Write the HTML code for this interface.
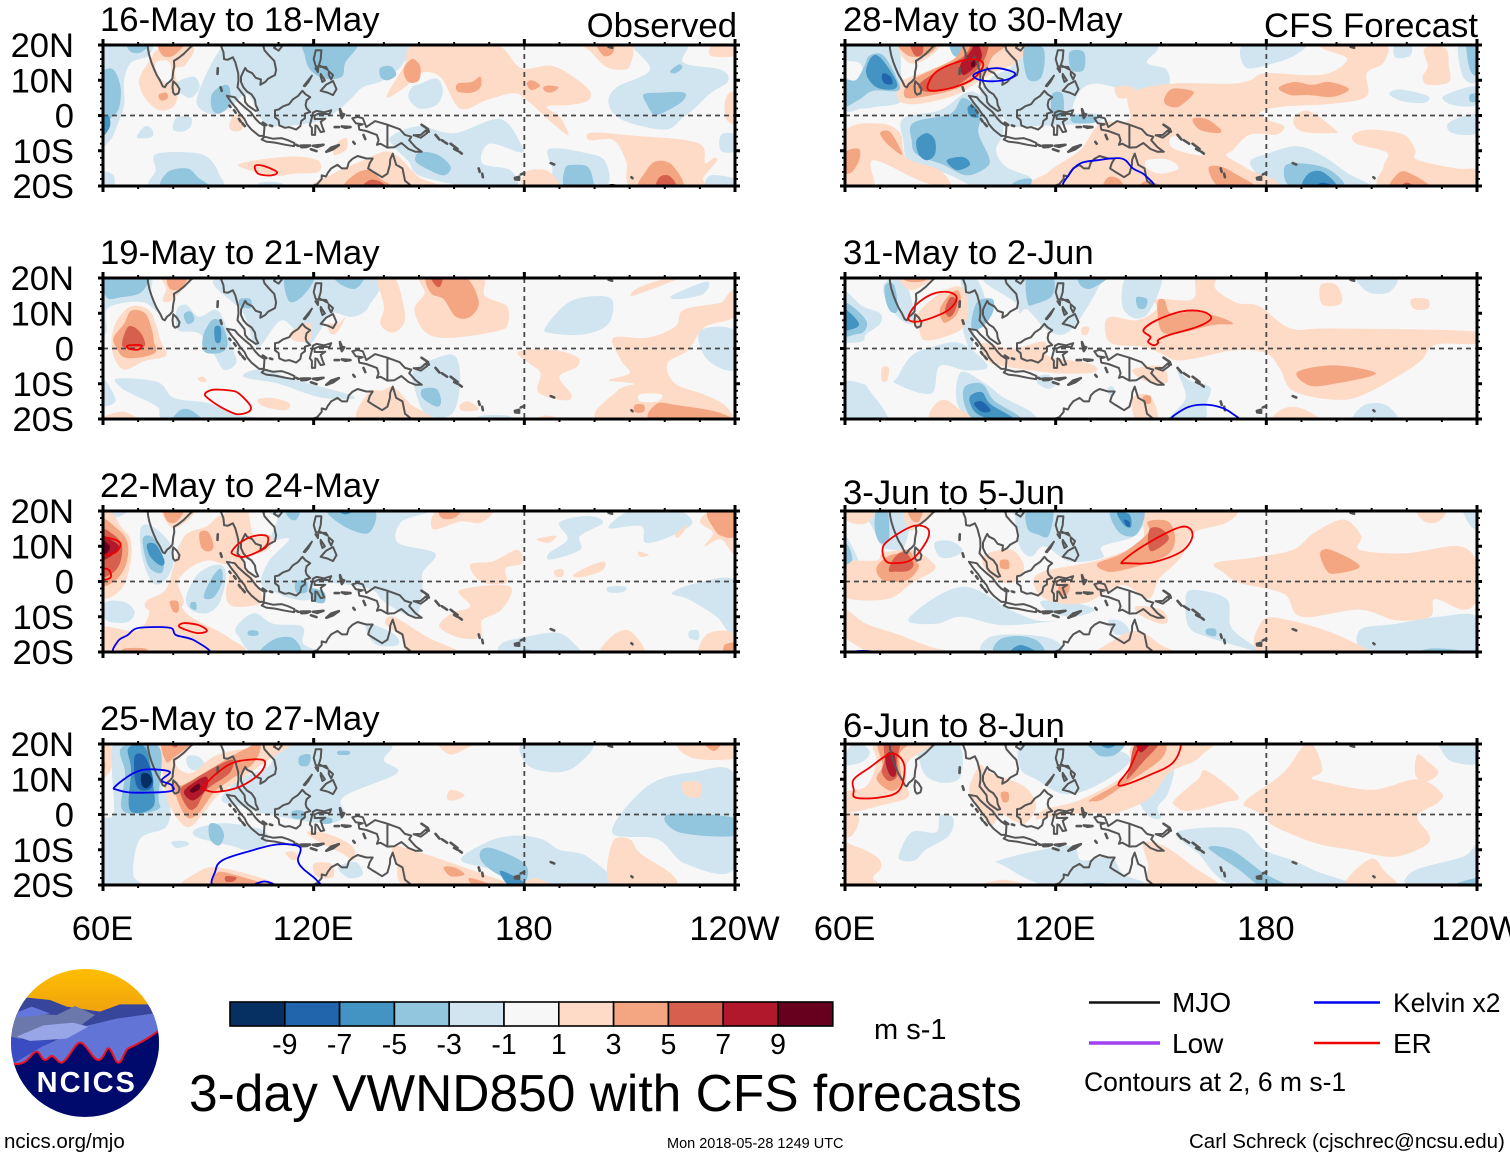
<!DOCTYPE html>
<html lang="en">
<head>
<meta charset="utf-8">
<title>3-day VWND850 with CFS forecasts</title>
<style>
html,body{margin:0;padding:0;background:#fff;width:1510px;height:1158px;overflow:hidden}
svg{display:block}
text{font-family:"Liberation Sans",sans-serif;fill:#000}
</style>
</head>
<body>
<svg id="chart" xmlns="http://www.w3.org/2000/svg" width="1510" height="1158" viewBox="0 0 1510 1158">
  <defs id="defs"></defs>
  <rect x="0" y="0" width="1510" height="1158" fill="#fff"/>
  <g id="panels"></g>
  <text x="737" y="37" text-anchor="end" font-size="34.7">Observed</text>
  <text x="1478" y="37" text-anchor="end" font-size="34.7">CFS Forecast</text>

  <g id="logo" transform="translate(0,950) scale(0.33333)">
    <clipPath id="logoClip"><circle cx="255" cy="279" r="222"/></clipPath>
    <linearGradient id="sky" x1="0" y1="0" x2="0" y2="1"><stop offset="0" stop-color="#ffc000"/><stop offset="1" stop-color="#ee9f10"/></linearGradient>
    <g clip-path="url(#logoClip)">
      <rect x="20" y="50" width="480" height="150" fill="url(#sky)"/>
      <polygon points="20,200 75,142 150,150 200,170 300,185 360,163 445,163 490,230 490,320 20,320" fill="#37459a"/>
      <polygon points="20,260 40,190 100,190 170,195 225,168 285,195 240,228 20,275" fill="#6a78ab"/>
      <polygon points="50,188 95,170 150,190 110,197 50,202" fill="#6576dc"/>
      <polygon points="20,345 60,320 265,226 350,206 462,190 490,240 490,320 300,350" fill="#6274d6"/>
      <polygon points="50,260 130,226 220,218 265,230 200,266 90,273" fill="#98a5e6"/>
      <polygon points="20,258 90,273 160,270 50,335 20,350" fill="#3a4cc2"/>
      <path d="M20,340 C40,342 60,345 75,335 C90,325 100,305 110,305 C120,305 125,330 135,330 C145,330 148,318 155,318 C165,318 175,340 185,338 C205,330 225,278 240,278 C258,278 278,330 295,330 C310,330 318,295 325,295 C335,295 345,338 355,338 C368,338 370,305 385,295 C420,280 460,255 490,232 L490,510 L20,510 Z" fill="#000a6c" stroke="#f01020" stroke-width="6"/>
    </g>
    <text x="110" y="426" font-size="87" font-weight="bold" letter-spacing="6" style="fill:#fff">NCICS</text>
  </g>

  <g id="colorbar"></g>
  <text x="874" y="1039" font-size="29">m s-1</text>
  <text x="189" y="1111" font-size="51.5">3-day VWND850 with CFS forecasts</text>

  <g>
    <line x1="1089" y1="1002.5" x2="1160" y2="1002.5" stroke="#111" stroke-width="2.5"/>
    <text x="1172" y="1012" font-size="28">MJO</text>
    <line x1="1314" y1="1002.5" x2="1380" y2="1002.5" stroke="#0000f0" stroke-width="2.5"/>
    <text x="1393" y="1012" font-size="26.5">Kelvin x2</text>
    <line x1="1089" y1="1043" x2="1160" y2="1043" stroke="#a040f0" stroke-width="3.5"/>
    <text x="1172" y="1053" font-size="28">Low</text>
    <line x1="1314" y1="1043" x2="1380" y2="1043" stroke="#f00000" stroke-width="2.5"/>
    <text x="1393" y="1053" font-size="28">ER</text>
    <text x="1084" y="1091" font-size="26.5">Contours at 2, 6 m s-1</text>
  </g>

  <text x="4" y="1148" font-size="20.5">ncics.org/mjo</text>
  <text x="667" y="1148" font-size="14.5">Mon 2018-05-28 1249 UTC</text>
  <text x="1189" y="1148" font-size="20.5">Carl Schreck (cjschrec@ncsu.edu)</text>
</svg>

<script>
// ---- Axis data ----
const latTicks = [20, 10, 0, -10, -20];
const latTickLabels = ['20N', '10N', '0', '10S', '20S'];
const lonTicks = [60, 120, 180, 240];
const lonTickLabels = ['60E', '120E', '180', '120W'];

// ---- Colour scale: band lower-magnitude contour -> colour ----
const bandLevels = [-9, -7, -5, -3, -1, 0, 1, 3, 5, 7, 9];
const bandColors = ['#053061', '#2166ac', '#4393c3', '#92c5de', '#d1e5f0', '#f7f7f7', '#fddbc7', '#f4a582', '#d6604d', '#b2182b', '#67001f'];
const colorbarLabels = ['-9', '-7', '-5', '-3', '-1', '1', '3', '5', '7', '9'];

// ---- Panel titles ----
const panelTitles = [
  '16-May to 18-May', '19-May to 21-May', '22-May to 24-May', '25-May to 27-May',
  '28-May to 30-May', '31-May to 2-Jun', '3-Jun to 5-Jun', '6-Jun to 8-Jun'
];

// ---- Shaded VWND850 anomaly regions: [contour level, lon, lat, lon, lat, ...] ----
const fillMay16 = [
  [-1, 59,20.5, 73,20.5, 73,17, 68,15, 66,10, 66,3, 64,-3, 62,-7, 59,-7],
  [-1, 86.7,3.4, 88.6,10, 93.3,18.6, 97,20.5, 144.6,20.5, 145.5,14.8, 139.9,10, 134,8, 130.3,4.4, 125.6,0.5, 119.9,-2, 108.5,-3, 104.7,-0.5, 101,6, 95.2,1.5, 90.5,0.5],
  [-1, 82,10, 86,11, 87.5,8, 85,5, 82,6.5, 81,9],
  [-1, 150.3,9, 155,10.5, 156.8,7, 155,3, 150,2, 147,5, 148,8],
  [-1, 211,20.5, 226,20.5, 225.3,15, 236,13, 238,9.7, 233,6.3, 229,2.5, 225.3,-0.5, 220,-4, 208,-1.3, 204,3.4, 206.3,8, 215.8,13],
  [-1, 236,-5.5, 240,-5.5, 240,-10, 236,-10],
  [-1, 233,-17, 240,-18, 240,-20.5, 232,-20.5],
  [-1, 142,-6, 150,-3, 160,-5, 173,-1, 179,-8, 179,-10.5, 170,-8, 168,-13.5, 176,-15.5, 177.4,-20.5, 164.5,-20.5, 162,-20, 150,-17, 147,-13, 143,-9],
  [-1, 75,-11, 85,-10.5, 90,-12, 93,-16.5, 93,-20.5, 74,-20.5, 75,-15.5],
  [-1, 69.6,-6, 72,-3, 74,-4, 74,-6, 71,-6.5],
  [-1, 80,-4, 81,-0.5, 85,-0.5, 85,-3, 83,-4.5],
  [-1, 187,-9.5, 197,-10.5, 203,-13, 203,-20.5, 189,-20.5, 188,-15],
  [-1, 60,-16, 63,-17, 63,-20.5, 60,-20.5],
  [-1, 105,-19, 110,-19, 112,-20.5, 104,-20.5],
  [1, 70.5,11, 73.4,15.7, 76.2,19, 85.7,19.5, 83.4,14.3, 80.5,13, 81.5,7, 80,2.5, 76,1.5, 72.4,4.4, 70.5,8],
  [0, 75,15, 79,15, 79,9, 76,11],
  [1, 140.8,5.3, 145.6,13.8, 149.4,20.5, 171,20.5, 179,13.5, 188.3,14, 197.8,8, 198.3,4.4, 193,3, 186.4,2.5, 190.2,-0.5, 192.6,-5.5, 190.2,-4, 187,-1.3, 180.7,4.4, 177,6.3, 169.3,4.4, 161.7,2, 156,11, 150,12, 146,8],
  [1, 197,20.5, 210,20.5, 210,14, 207,13, 203,14, 199,18],
  [1, 233,17, 240,17, 240,20.5, 234,20.5],
  [1, 238,6, 240,6, 240,-2, 237.5,-1, 237,3],
  [1, 121,-20.5, 125.6,-16.5, 134.2,-12.7, 139.9,-10.3, 143.7,-11.3, 150,-17.5, 155,-20.5],
  [1, 98.5,-14, 112.3,-11.7, 121,-12.7, 121.3,-16, 114.2,-16.5, 108.5,-17],
  [1, 125.6,-11, 127,-7.5, 129.4,-6.5, 129.4,-9.5, 127,-11],
  [1, 96,-3.5, 96.5,-1, 98.5,0.5, 100,-1.5, 99.5,-4, 97.5,-4.5],
  [1, 198.3,-5, 203.5,-5, 211,-5.7, 226.3,-7, 231,-9, 231.5,-13.5, 234,-12, 234.8,-13, 231,-17.5, 230,-20.5, 211,-20.5, 209,-13, 205.4,-7, 198.7,-7],
  [1, 180,-20.5, 180.5,-16, 186,-15.5, 189,-18, 189.5,-20.5],
  [-3, 60,13, 63,13, 65,8, 64.5,2, 62,-1, 59,-3, 59,13],
  [-3, 67,20.5, 73,20.5, 71,18, 68,18],
  [-3, 118,20.5, 132,20.5, 129,15, 128,11, 123,10.5, 119,13, 117.5,17],
  [-3, 139,13.5, 142,14, 143.5,11.5, 141,10, 139,11],
  [-3, 91,6, 94,8.5, 96,8, 96,3, 93,0.5, 91,2],
  [-3, 214,6, 219,6.5, 225.5,6.5, 225,4, 220,1, 217,0.2, 215,3],
  [-3, 221.5,12.5, 224,14.5, 225,13.5, 223,12],
  [-3, 150,-10.5, 155,-11, 159,-14.5, 157,-17, 152,-15, 149,-13],
  [-3, 77,-20.5, 78.5,-16, 84,-15, 87,-17.5, 90,-20.5],
  [-3, 191.6,-20.5, 191.6,-15, 194,-14, 198,-14.5, 199.5,-18, 199,-20.5],
  [3, 76,20.5, 83,20.5, 80,17, 77,17],
  [3, 76,6, 78,6.5, 78.5,5, 77,4.2, 76,4.8],
  [3, 161,9, 165,9.5, 167.5,11, 167.5,8, 165,6.5, 161,6.8],
  [3, 180.7,9, 182,10, 184.5,8.5, 182,7.2],
  [3, 185.4,8, 187,8.5, 189.7,8, 188,6.6, 186,6.8],
  [3, 145.6,13, 148,16, 150.3,14, 150,10, 147,9.5],
  [3, 200.6,20.5, 205.4,20.5, 205,17.5, 202.5,17],
  [3, 213,-20.5, 214.5,-16, 217.5,-13, 222,-14, 225,-20.5],
  [3, 129,-20.5, 132,-16.5, 136,-15.5, 139,-18, 142,-20.5],
  [5, 217.7,-20.5, 218.5,-17.5, 221,-17, 223,-19, 223,-20.5],
  [5, 134,-20.5, 136,-18.3, 139,-18.8, 140.5,-20.5],
  [-5, 59,-1, 61.5,0, 62,-3, 60,-6, 59,-5.5]
];
const fillMay19 = [
  [-1, 59,20.5, 73,20.5, 73.5,15, 76,10, 72,13, 66,13, 61,11, 61,5, 59,3],
  [-1, 81,11, 83.7,12.4, 87.3,9, 92,11, 94.4,8, 96.7,0.5, 98,-4, 94.4,-6, 91,-0.5, 87.3,4.3, 81.4,5.3],
  [-1, 93,20.5, 135.7,20.5, 135.7,12, 131,9, 125,10, 121.5,4.5, 118,1.4, 111,8, 104,0.5, 100,10],
  [-1, 186,6, 192.3,12.9, 199.4,14.8, 205,13.8, 204,7, 197,4, 187.6,4.3],
  [-1, 222,15, 232,19, 231,15.5, 224,14],
  [-1, 230,5, 240,5, 240,-6, 232,-3],
  [-1, 64,-8.5, 75.5,-9.5, 80.2,-14, 90,-15.5, 97,-18.6, 105,-20, 79,-20.5, 75.5,-16.5, 68.4,-13, 65,-11],
  [-1, 60,-9, 62,-11, 63.5,-15, 60,-16],
  [-1, 100,-8, 105,-6, 117,-9.5, 129.8,-13, 131,-14.3, 121.5,-13.8, 110,-10],
  [-1, 148.7,-6, 155.8,-2.4, 160.5,-2.4, 161.7,-10, 159.3,-18.6, 152,-18.6, 148.7,-11],
  [-1, 166,-20.5, 168,-19, 175,-19, 176,-20.5],
  [-1, 187,-20.5, 190,-19.5, 194,-20.5],
  [1, 62.5,3, 64,8, 68,12, 73,11, 75,7, 76.5,2, 78,-2, 72,-3.5, 66,-6, 63,-2],
  [1, 77,20.5, 85,20.5, 80,14, 77,13.5, 78,17],
  [1, 124,7, 127,7, 129,9, 127,5, 125,4],
  [1, 113,4, 116,6.5, 119,7, 119,2.5, 115,2],
  [1, 138,20.5, 143,20.5, 146,10, 145,6, 142,4.5, 139,7, 140,12],
  [1, 151,20.5, 167.5,20.5, 168.7,15, 175,12, 175.3,7, 172.5,5, 159,3, 152,4.5, 148.7,11, 151.6,15.7],
  [1, 205.3,3, 214.8,3, 223,6.2, 225.4,11, 236,13, 240,15, 240,9, 231.3,6, 226.6,-0.5, 220.7,-4.3, 223,-10, 231,-13, 237,-16, 240,-20, 240,-20.5, 201.8,-20.5, 206.5,-12, 211.2,-10, 204,-9, 210,-7, 207.5,-3.3],
  [1, 211,15, 222,19, 225,20.5, 219,19.5, 212,17],
  [1, 178.2,-1, 187.6,-0.3, 195,-2.4, 195,-5.2, 190,-8, 193.5,-13.3, 191.2,-14.7, 184,-12.4, 184.6,-7, 181.6,-4.3],
  [1, 60,-20.5, 61,-19, 66,-18, 70,-20.5],
  [1, 87,-8.5, 88.5,-8, 89.5,-9.2, 88,-9.5],
  [1, 135.7,-12.4, 139.2,-12, 142.8,-11, 147.5,-15.7, 153.4,-20.5, 133,-20.5],
  [1, 161.7,-16, 164,-15, 167,-17, 165,-17.8, 162,-17.5],
  [1, 104,-14.5, 108,-14, 113,-15.5, 112,-17.5, 106,-16.5],
  [1, 183,-20.5, 186,-19, 190,-20],
  [1, 234,8, 240,13, 240,17, 237,14],
  [0, 213,-13, 219,-13, 218,-15, 213,-15],
  [-3, 60,20.5, 72,20.5, 71,16, 65,14.5, 61,14.5],
  [-3, 83,9.7, 85,10.5, 86,8, 84,7],
  [-3, 88.5,3.5, 91,8, 93.5,7.5, 95.5,2, 94,-1, 89,-1],
  [-3, 112,20.5, 120,20.5, 117,15, 113,13.4],
  [-3, 126,20.5, 134,20.5, 132,17, 128,18],
  [-3, 99,14, 102,14, 102,11.5, 99,12],
  [-3, 151,-11.5, 155,-11.5, 156.3,-15, 155,-16.5, 151,-14],
  [-3, 80,-20.5, 82,-17.5, 85,-17.5, 88,-20.5],
  [3, 63,3, 66,7, 68,10.7, 72,10, 74,5, 74.5,2, 75,-1, 71,-2.5, 66,-2.5, 64,0],
  [3, 78.5,20.5, 84,20.5, 82,17, 79,17],
  [3, 152.5,20.5, 162.8,20.5, 167,13.4, 164.6,9, 160.5,9, 157,14, 153.4,15.7],
  [3, 217.7,-15.7, 223,-16, 234.8,-18, 238,-20.5, 216.5,-20.5],
  [3, 211.5,-16, 214,-16, 214,-18, 211.5,-18],
  [5, 65.5,2, 67,6, 69,6, 71,4, 72,1, 70,0.3, 66,0.3],
  [5, 153.4,20.5, 156.7,20.5, 156,17.6, 154.6,18],
  [-5, 91.8,6, 93.5,6, 93.5,2, 92,2]
];
const fillMay22 = [
  [-1, 110,20.5, 152,20.5, 145,17, 144,11, 154.6,8, 151,2.4, 151,-3.3, 148.7,-10, 140.4,-6, 135.7,-2, 121.5,-0.5, 119,-5, 114.4,-5, 109.7,-3.3, 105,-0.5, 107.4,6, 113,12, 108,12, 109.7,17.6],
  [-1, 60,20.5, 67,20.5, 65,18.5, 62,18.5],
  [-1, 60.5,-6, 66,-5.8, 69,-8.5, 67,-11.5, 61,-11],
  [-1, 70.7,15, 74,15.7, 79,11, 80.2,5.7, 77.8,0.5, 74.3,-0.5, 71.3,6.2],
  [-1, 81.5,10, 84,12, 84.5,9, 82,8],
  [-1, 83.7,-4.3, 87.3,2.4, 93.2,4.8, 95,1.4, 93.2,-6, 89.6,-9, 85,-8],
  [-1, 98,-12.8, 103,-9, 108.5,-12, 116.8,-12.8, 117,-17.6, 121.5,-20.5, 103.8,-20.5, 98.7,-15.7],
  [-1, 136,-12, 143,-15, 144,-18, 138,-18, 135,-14],
  [-1, 190,16.7, 198,18.6, 202.4,16.7, 195.9,12.9, 195.9,9, 187.6,6.2, 187,8, 192.3,12],
  [-1, 204,15.2, 211,20.5, 223,20.5, 227.8,16.7, 221.9,12.9, 214.5,11, 213.3,15.7],
  [-1, 222,-3.3, 229,-0.5, 240,0, 240,-16, 234.8,-10, 226.6,-5],
  [-1, 173.5,-17.6, 180.5,-15.7, 190,-14.7, 196,-19.5, 197,-20.5, 175,-20.5],
  [-1, 204,-1.5, 209,-1.5, 208,-3, 204,-3],
  [-1, 227,-14, 229.5,-14, 229.5,-16.5, 227,-16],
  [1, 59,20.5, 62,20.5, 65,15.7, 67.8,12, 67.8,5.2, 65,-2.4, 59,-3],
  [1, 59,-13, 69.6,-14, 73.2,-9, 72.4,-6, 80,-5, 85,-10, 96,-16, 98,-20.5, 59,-20.5],
  [1, 77,20.5, 86,20.5, 83.7,17, 79.6,15.3],
  [1, 83.2,12.9, 89.6,15.7, 93.8,18.6, 98,13, 96,5.3, 90,6, 85,4, 81.4,0, 83,-6, 80,-8, 73,-8, 72.4,-5.5, 77.8,-2.4, 80.2,4.5],
  [1, 97,20.5, 101,20.5, 103,13, 108,13, 107,9, 100,6, 104,-1, 105,-6, 97,-7, 95,-3, 97,6, 96,13, 94,18],
  [1, 142.7,-10, 152.2,-15.7, 161.7,-20.5, 147.5,-20.5, 145,-15.7, 140.4,-12],
  [1, 161.7,-2.4, 175.8,-1.4, 173.5,-8, 168,-11, 167.5,-15.7, 161.7,-16, 155.8,-12.8, 159.3,-9, 164.6,-7],
  [1, 164.6,4.8, 171,5.7, 178,9, 179.3,5.2, 174.7,3.8, 174.7,-0.5, 167.6,0],
  [1, 154,14.8, 155.8,20.5, 170.5,20.5, 167.6,16.7, 161.7,17],
  [1, 230,17, 233.7,20.5, 240,20.5, 240,8, 236,12, 231.3,10, 233.7,13.8],
  [1, 223,13.5, 226.5,16, 224,12.5],
  [1, 183.5,12, 189,13, 187,11],
  [1, 188.5,3, 191,3.5, 191,1.5, 189,1.5],
  [1, 194,2, 200,5, 203,5.5, 202,3, 196,1.2],
  [1, 212.5,8.5, 215.5,7.5, 213,7],
  [1, 202,-20.5, 205,-15.5, 210,-14, 214,-20.5],
  [1, 230,-20.5, 232,-15, 238,-14, 240,-16, 240,-20.5],
  [-3, 71.3,12, 74.3,12.4, 77.2,6.2, 76.6,2.4, 73,4.3],
  [-3, 88.7,-4.3, 91,1, 93.5,3.7, 94,0, 91.5,-4.5],
  [-3, 85,-6, 86.5,-6, 86.5,-8, 85,-7.5],
  [-3, 124,20.5, 137,20.5, 135.7,13.8, 128.6,15.7],
  [-3, 112,20.5, 116,20.5, 115,17.5, 113,18],
  [-3, 115,0, 118,0, 118,-3, 115,-3],
  [-3, 119,-2, 123,-3, 123,-6, 120,-5.5],
  [-3, 101.5,-14, 104,-14, 104,-15.3, 101.5,-15.3],
  [-3, 105,-20.5, 108.5,-16.5, 114,-16, 116,-20.5],
  [-3, 180,-19, 184,-20.5, 180,-20.5],
  [3, 59,17, 64,15, 67,11, 66.6,5, 63.6,0.4, 59,0],
  [3, 87.5,13.8, 90,14, 91.5,10, 90,8.5, 88,9.7],
  [3, 79,-5.7, 81.3,-5.7, 81.5,-8.5, 80,-8.5],
  [3, 77.5,20.5, 83,20.5, 81,17, 78.5,17],
  [3, 156,20.5, 162,20.5, 160,18, 156.5,18],
  [3, 232,19, 234,20.5, 240,20.5, 240,13, 236,13, 234,15],
  [3, 66,-19, 72,-19, 72,-20.5, 66,-20.5],
  [3, 237,-18, 240,-17.5, 240,-20.5, 237,-20.5],
  [5, 59,14.3, 63,13.3, 65.4,10, 64.8,5.2, 62.5,2.3, 59,2],
  [-5, 72.5,10.5, 75,10.5, 77.5,6, 76.5,4.5, 73.5,7],
  [-5, 127,20.5, 132,20.5, 129,19],
  [7, 59,13.5, 61,12.5, 64.5,10, 62,7, 59,6.5],
  [9, 59,12.5, 61,11, 62,9.7, 61,8, 59,8]
];
const fillMay25 = [
  [-1, 64,20.5, 77,20.5, 76,10, 79,3.5, 78,-3.5, 70.5,-7, 68.6,-17, 71.5,-20.5, 59,-20.5, 59,-2.5, 63,0.3, 62.5,14.5],
  [-1, 109.5,18.3, 115,20.5, 140.9,20.5, 140,15.4, 143.7,11.7, 128.5,5, 129,-0.3, 122.8,-2.5, 105.7,0.3, 101,2, 93.8,4, 98.5,9.8, 107,13.5],
  [-1, 84,16.5, 87,16.5, 89,14, 86,12.5, 84,14],
  [-1, 86.7,-4, 95,-2.5, 105.7,-4.5, 106.6,-8.2, 101,-10, 97,-9, 86.7,-6.4],
  [-1, 79.5,-7.8, 83,-7.5, 84.5,-8.5, 81,-9.5],
  [-1, 162,-13, 169,-8, 177,-6, 185,-7, 190,-10, 198,-12, 205,-20.5, 178,-20.5, 172,-16],
  [-1, 180,20.5, 199,20.5, 195,14, 189,12, 181,14],
  [-1, 205,-5, 215,8, 228,12, 240,11, 240,-15, 226,-14, 218,-7],
  [-1, 127,-15, 132,-13.5, 134,-17, 130,-18],
  [1, 59,20.5, 62,20.5, 62.5,14, 61,11, 59,11],
  [1, 76,18.8, 79,20.5, 84,18.3, 80.5,14.5, 85,11.7, 91.4,16.4, 98,18.3, 103.8,19, 114,20.5, 105.7,14.5, 99,9.8, 93.3,6, 88.6,0.3, 84.8,-3.5, 81.5,-1.6, 78,5, 76.7,13.5],
  [1, 87.6,-16, 92.4,-15, 100.9,-16.8, 109.5,-19.6, 109.5,-21, 83,-21],
  [1, 112,-11, 114,-10.5, 116,-12, 114,-13],
  [1, 120,-14, 125,-14, 125.5,-17.7, 121,-17.7],
  [1, 118,-5, 124,-5.5, 131,-9, 131.5,-13, 128,-11, 122,-8],
  [1, 142.7,-9, 151,-11, 168,-16.8, 175.8,-19.6, 175.8,-20.5, 147.4,-20.5, 143.7,-14],
  [1, 205,-8, 210,-7, 213,-11, 222,-17, 222,-20.5, 205,-20.5],
  [1, 224,20.5, 240,20.5, 240,16, 228,16],
  [1, 225,9, 230,9, 230,5, 226,5.5],
  [1, 180,-20.5, 183,-18, 188,-20.5],
  [1, 159,17, 165,19.5, 168,20.5, 156,20.5],
  [1, 158,4.5, 159,7, 163,5.5, 160,4],
  [-3, 65.3,19, 76,19, 75.8,5, 76,1.7, 70.5,0.3, 65.3,1.7, 66.3,11.6],
  [-3, 116,16.5, 119,17, 118.5,14, 116,14],
  [-3, 114,1, 117,1, 117,-1, 114,-1],
  [-3, 122,-1, 125,-1, 125,-2.5, 122,-2.5],
  [-3, 127,18, 130,18, 130,17, 127,17],
  [-3, 90.3,-2.8, 93,-3, 94.5,-6, 93,-8.8, 90.5,-7],
  [-3, 167.5,-10.5, 170.5,-9.5, 178,-12.5, 181,-15.5, 179.5,-19.5, 172.5,-17, 168,-13.5],
  [-3, 221,0, 240,-1, 240,-6, 224,-5],
  [3, 59,17, 60.5,15, 60.5,13, 59,12.5],
  [3, 80,9.8, 82.4,8.3, 88.6,11.7, 98,17.3, 104.7,20, 102.8,14.5, 96.2,9.8, 91.4,6, 87.6,0.8, 84.3,-1, 81.5,3.3],
  [3, 77,20.5, 85,20.5, 80,16, 78,15],
  [3, 92.5,-16.5, 97,-17, 107,-20.5, 92,-20.5],
  [3, 157,-15, 160,-15, 163,-17, 159,-17.5],
  [3, 164.5,-18, 172,-20.5, 166,-20.5],
  [3, 231,20.5, 236,20.5, 234,18],
  [5, 82,6.9, 85.7,9.8, 92.9,14, 97,15.5, 96,11.7, 89.5,7, 86.7,2.2, 84.3,1.7],
  [5, 79,20.5, 82,20.5, 80.5,19],
  [5, 95,-17.5, 98,-17.8, 97,-19, 95,-19],
  [-5, 67.2,18.8, 72,19, 74,10, 74.3,2.2, 67.7,1.2, 68,12.6],
  [-5, 173,-16, 178,-18, 181,-20.5, 176,-20.5],
  [7, 83,6.4, 86.2,9.3, 89.5,10.7, 89.5,7.4, 85.7,4],
  [-7, 69,16.4, 72,16.4, 74.3,9.8, 73,7, 69.6,8],
  [9, 84.8,6.9, 87.2,8.8, 87.6,7.4, 85.7,6.2],
  [-9, 71,11.5, 73,11.5, 74,9.5, 72.5,7.5, 71,8.5]
];
const fillMay28 = [
  [-1, 59,20.5, 74,20.5, 76,11, 76,4, 69,2.5, 65,2, 59,2.5],
  [-1, 110.8,20.5, 147,20.5, 146,15, 151.6,13, 151.6,8, 142,7, 131.7,9, 127,7, 125,1, 131.7,0.5, 131.7,-2, 113.5,-3, 108,-3, 104,0.5, 98.5,6.3, 102,11, 107.5,14],
  [-1, 76.6,-0.8, 87,1.5, 94.2,6.3, 98,6, 104,0.5, 105,-5, 103,-10, 106,-14.6, 112.7,-17.5, 112.7,-20.5, 98.5,-20.5, 89,-16.5, 78.5,-13, 76.6,-7],
  [-1, 174,13.7, 174,20.5, 190.6,20.5, 188,17, 181,14.5],
  [-1, 216.7,16.5, 216.7,20.5, 221,20.5, 221,17],
  [-1, 215,6, 218,7.4, 226,5.5, 225,3.6, 219,4],
  [-1, 234.7,20.5, 240,20.5, 240,10, 236,11],
  [-1, 230.5,5.5, 240,8.3, 240,3, 233,3],
  [-1, 232,-2, 240,0.5, 240,-5, 233,-5],
  [-1, 175.4,-13, 181,-10.6, 188.7,-8.7, 195.3,-11, 203,-16.3, 208.6,-20.5, 182,-20.5, 178,-17.3],
  [1, 141,6, 152.6,9, 169.7,9, 175.4,10, 180,12, 196,11.6, 203,16, 196,19, 197,20.5, 213.4,20.5, 213.4,15, 208.6,12, 208.6,5.5, 200,3.5, 186,2.6, 180,1.7, 178,0.3, 181,-1.5, 185,-3, 183,-5.4, 175.4,-5.4, 170.6,-9.7, 168.7,-11.5, 174.4,-15, 180,-20.5, 117,-20.5, 118,-16, 127,-9.8, 132.6,-2.3, 141,-1.3],
  [0, 146,-12.7, 152,-12.5, 155,-15, 150,-16.5, 146,-15],
  [0, 153,-6, 157,-7, 162,-11, 159,-11, 153,-9],
  [1, 75.5,20.5, 87,20.5, 83,16, 78,15],
  [1, 74.7,5.8, 76.6,10, 83.3,12.5, 91,16, 94,19, 110.8,20, 109,15, 104,13, 98.5,10, 92,6, 82.5,3.5, 76.6,3.5],
  [1, 60,-4.6, 70,-2.3, 75.7,-5, 77.6,-12, 87,-15.5, 90,-20.5, 81.4,-18.5, 68,-12.7, 68,-20.5, 59,-20.5],
  [1, 225,19, 231,19, 232,14, 232,9.5, 226,8.7, 224.5,11, 226,14],
  [1, 187.7,-1, 192,1.3, 199.6,-4, 199,-5, 190,-4.5],
  [1, 204.8,-5.4, 209.6,-4, 219,-5.4, 222.4,-9.7, 222.9,-12.5, 234,-15, 240,-15.5, 240,-20.5, 213.4,-20.5, 213.4,-14.5, 214.3,-10.5, 205.7,-8],
  [1, 235,20, 240,20.5, 233,20.5],
  [1, 137,8, 142,8, 142,5.5, 138,5],
  [0, 59,15, 64,15, 65,12, 63,10, 59,11],
  [-3, 59,10, 63,10, 65.5,14, 67,17, 71,17, 75,10, 75,7, 68,7, 64,4.5, 59,2.5],
  [-3, 90,20.5, 95,20.5, 94,17, 91,17],
  [-3, 79.5,-2, 90,0.5, 93.7,5, 98.5,0.5, 98,-5, 101,-11.8, 100.4,-14.6, 94.7,-17, 88,-14, 80.4,-11, 79,-7],
  [-3, 111,19, 116.5,19, 116,11, 112,10.5],
  [-3, 124,18, 128,18, 128,13, 124.5,13],
  [-3, 119,6, 122,6, 122,0, 119,0],
  [-3, 125,0, 131,0, 131,-2, 125,-2],
  [-3, 109,-18.5, 113,-18, 112,-20.5, 107,-20.5],
  [-3, 237,20.5, 240,20.5, 240,12, 238,13],
  [-3, 238,6, 240,6, 240,4, 238,4],
  [-3, 185,-15.4, 187.7,-13.5, 197.2,-15, 202,-20.5, 187.7,-20.5],
  [-1, 88,-9, 90,-2, 95,-2, 96,-7, 91,-10],
  [0, 91,-4, 93,-4, 93,-6, 91,-6],
  [3, 75.5,20.5, 86,20.5, 83,17, 78,17],
  [3, 77,5.3, 79,10, 91,16, 94.7,20.5, 106,20.5, 102,16.7, 99.4,12, 92,7.7, 82.3,5.3],
  [3, 70,-5, 72.8,-4.6, 76,-10, 75.7,-11, 72,-8],
  [3, 60,-10.5, 64,-9.5, 64,-12.7, 62,-16, 60,-16],
  [3, 151,5, 153,7.5, 157,7.4, 159.3,6.3, 155,2.5, 151.5,3],
  [3, 159,-1, 163,-1, 167,-4, 166,-5, 161,-4],
  [3, 183.5,7.8, 188,9.5, 193,8.7, 198,9.5, 203.5,7.5, 199,5.3, 192,5.8, 187,5.8],
  [3, 163.5,-15, 167,-14.5, 172,-17, 177,-20.5, 167,-20.5],
  [3, 133.6,-20.5, 135,-17.5, 138,-18, 139,-20.5],
  [3, 144,-20.5, 146,-18.5, 150.7,-20.5],
  [3, 215.7,-20.5, 217,-17, 220,-16, 226.7,-20.5],
  [5, 78.5,20.5, 82,20.5, 82,17.5, 80,17],
  [5, 81,8.6, 86,12.4, 93.7,16.7, 96.6,20.5, 100.8,20.5, 98.5,14, 91,8, 83.5,6.7],
  [5, 218,-20.5, 220,-19, 222.4,-20.5],
  [-5, 67.5,16.5, 70,16.5, 74.5,10, 74,7.5, 69,8, 66,12],
  [-5, 80.4,-7, 83.3,-5, 85.6,-7, 85.6,-11, 83.3,-12.7, 81,-11],
  [-5, 89,-12.7, 93.7,-11.8, 95.6,-14, 91.8,-15.5],
  [-5, 95,2.5, 97,2.5, 98,-0.5, 95.5,0],
  [-5, 190.6,-20.5, 192,-16.5, 196,-16, 200,-20.5],
  [7, 92.8,14.3, 95.6,18, 97.5,20.5, 99,16.7, 96.6,13.4, 93.7,11.5],
  [-7, 71,12, 73,11, 73.5,9, 71.5,9, 70.5,10.5],
  [-7, 194.4,-20.5, 196,-19, 200,-20.5],
  [9, 96,15, 97,15.7, 97,14, 96,13.8]
];
const fillMay31 = [
  [-1, 59,16, 65,12, 70,10, 70,7, 66,4, 65,2, 60,1.5, 59,1.5],
  [-1, 71,18, 75,20.5, 78,17, 80,8, 78,7, 75,9, 72,13],
  [-1, 96,-1, 97,6, 100,13, 97,20.5, 93,20.5, 94,13, 93.5,6],
  [-1, 75,-8, 79,-2, 85,0.5, 93,1.5, 100.6,-5, 94.5,-6.2, 87,-5, 84.5,-12.8, 74.5,-10],
  [-1, 100,20.5, 131,20.5, 132,17, 124,5, 118,5, 112,11, 109.7,10, 108.6,13],
  [-1, 140.4,20.5, 150,20.5, 147,11, 143,8.5, 139,12],
  [-1, 206,20.5, 217,20.5, 215,16, 209,16],
  [-1, 154.6,-6.2, 158,-9, 164,-11, 163,-15.7, 162,-20.5, 152.2,-20.5, 157,-14],
  [-1, 205,-20.5, 208,-16, 214,-16, 217,-20.5],
  [-1, 59,-10, 65,-10, 67,-12, 72,-20.5, 59,-20.5],
  [-1, 93,-6.7, 100,-10, 105,-13.8, 113,-18, 113,-20.5, 98,-20.5, 92,-15.7],
  [-1, 115,-8, 118,-7.5, 120,-10, 118,-11.5, 115,-10],
  [-1, 135,-11, 136.5,-11, 136.5,-13, 135,-13],
  [1, 76,20.5, 85,20.5, 80,16.7, 77,17.6],
  [1, 79,8, 86,15, 92.6,17.6, 95,13, 93.8,6.2, 88.4,3.3, 82.5,2.4, 80.8,6.2],
  [1, 134,6, 135.7,9, 143,8, 148.7,11, 148.7,14, 159,14, 160,20.5, 165.5,20.5, 165.5,17, 171.5,13, 178,12, 187,5.7, 199,5.7, 240,4.8, 240,1.4, 228,1, 223,-4.3, 208,-13, 199,-14.5, 187.6,-12, 184,-6, 180,-1.4, 171,-0.5, 155.8,-3.4, 150,-1.4, 145,0.5, 136,1.4],
  [1, 195.5,18, 200,18, 201.5,13, 196,12.4],
  [1, 221.3,14, 226,14, 226,11.3, 222,11.3],
  [1, 182,-20.5, 185,-17, 190,-17, 195,-20.5],
  [1, 235,20.5, 240,20.5, 240,19.8, 235,19.8],
  [1, 99,1.5, 107.6,0, 116.8,1.9, 118,-2.2, 129.8,-4.3, 131,-6.7, 120.3,-7, 105,-5, 100.6,-3.3],
  [1, 142,-6, 150,-5, 152,-9, 150,-10, 145,-9],
  [1, 142,-14, 147,-13.5, 149,-20.5, 143,-20.5],
  [1, 70.5,-5.5, 72.5,-5.5, 72,-9, 70.5,-9],
  [1, 85,-16.7, 88.4,-14.5, 93.2,-17.6, 99,-20.5, 85,-20.5],
  [1, 127.5,6, 129.5,6, 129,4, 127.5,4],
  [-3, 59,12.7, 62,12, 66,8, 65.6,5, 63,4, 59,4],
  [-3, 71.5,18, 74,18, 75,11, 73,10.5, 71.5,14],
  [-3, 97.5,13, 102,14, 102,10, 99,6, 96,6],
  [-3, 112,20.5, 119,20.5, 119,15, 114,12.6, 112,13],
  [-3, 127,20.5, 135,20.5, 130,17, 127,18],
  [-3, 143,14.5, 146,14, 145.5,11.5, 143.5,11.5],
  [-3, 94,-11, 99,-10, 102.5,-14.8, 110,-20, 98,-20.5, 94.3,-16.7],
  [3, 76,20.5, 84,20.5, 82,19, 78,19],
  [3, 87,11, 89.5,15, 92,16.5, 93,14, 92,10, 90,8, 88,7.5],
  [3, 149,12.9, 151,13.8, 152.8,10, 159.3,10.5, 166.4,9, 170.5,7, 165,6.7, 154.6,4.3, 150,5.2],
  [3, 188.8,-6.7, 199.4,-4.8, 211.2,-7.1, 199.4,-10, 192.3,-10.5],
  [3, 145,-13.5, 147,-13.5, 147,-15.5, 145,-15.5],
  [5, 88.5,11, 90,14.5, 92,13.5, 91,10, 89.5,9],
  [-5, 59,11, 61,10.5, 64,7, 62,5.5, 59,5.5],
  [-5, 95.5,-13.8, 99,-12.4, 101.5,-15.8, 109,-20.5, 101.5,-20, 97,-18],
  [-7, 96.7,-15.7, 99,-15, 101.5,-17.6, 99,-18]
];
const fillJun3 = [
  [-1, 59,14, 62,10, 64,5, 62,4, 59,4],
  [-1, 66,20.5, 78,20.5, 77,10, 74,9, 70.5,10, 68,15],
  [-1, 85.5,11, 90,11.5, 93.5,9, 91,7, 87,7],
  [-1, 78,-11, 86,-4.3, 94.4,-1.5, 103,-5.3, 105,-7, 114.4,-11, 121.5,-11, 105,-12.4, 93.2,-10, 86,-12],
  [-1, 116,-5.5, 125,-6, 131,-8, 125,-10, 118,-8.5],
  [-1, 101.4,-15.7, 113,-15.2, 120.3,-17, 120.3,-20.5, 100,-20.5],
  [-1, 110.3,20.5, 142.8,20.5, 143,13.3, 133.3,10, 133.3,6.7, 124,5.7, 116.8,10, 113,7, 109.7,10, 108.5,18],
  [-1, 158.7,-2.4, 168.7,-5, 170,-13, 177,-18.6, 180,-20.5, 164,-16, 158,-13, 157,-6],
  [-1, 206.6,-13.8, 217,-12, 229,-10, 240,-10, 240,-20.5, 210,-20.5],
  [-1, 236,20.5, 240,20.5, 240,15, 238,16],
  [-1, 135,-11, 139,-11.5, 141,-14.5, 137,-15],
  [1, 59,20.5, 68,20.5, 66,16.5, 61,17],
  [1, 77,20.5, 86,20.5, 80,15, 78,15],
  [1, 59,5, 69,6, 70.7,8, 79,9, 84.3,6, 85.5,3.3, 79,-0.5, 72,-5, 59,-4],
  [1, 59,-8, 66,-12, 75,-15, 86,-19, 97,-20.5, 59,-20.5],
  [0, 59,-16, 63,-18, 66,-20.5, 59,-20.5],
  [1, 100,7.6, 107.3,9, 111,4.3, 108.5,0, 104,0, 99.5,4.3],
  [1, 115.5,2.4, 132,6, 144,11, 145,17, 146.3,20.5, 170,20.5, 168.7,16.7, 159.3,13.8, 155.8,7, 150,1.4, 149,0, 146.3,-5, 139,-1, 128.6,-6, 119,-5.7, 114.4,-2.4],
  [1, 165.3,5.2, 175.8,6.7, 187.6,9, 193.6,13.8, 202,17.6, 207,13, 206.6,9, 219.6,8, 234.8,10, 240,5, 240,-5, 236,-8, 228,-5, 226.6,-10, 217,-11, 206.6,-8, 190,-10, 185,-3.5, 172.7,-0.5, 168,2.4],
  [1, 223,20.5, 231,20.5, 229,17, 225,17],
  [1, 179,-11, 186.5,-11, 199.4,-14.8, 210,-20, 210,-20.5, 179,-20.5],
  [1, 143,-7, 150,-8, 152,-11, 150,-12, 144,-9.5],
  [1, 133,-20.5, 136,-17, 143,-14, 150,-18, 153,-20.5],
  [-3, 59,11, 61,10, 62,6, 59,5],
  [-3, 69,20.5, 72,20.5, 72.5,12, 70,11, 68.5,15],
  [-3, 112,20.5, 119,20.5, 118,13, 115,13.3, 112,15],
  [-3, 135.7,20.5, 145,20.5, 143,13.3, 138,14],
  [-3, 103,-20.5, 104,-16.5, 110,-15.5, 115,-17, 116,-20.5],
  [-3, 163,-13.5, 165.5,-13.5, 165.5,-15.5, 163,-15],
  [-3, 223,-20.5, 227,-19, 235,-19.5, 236,-20.5],
  [3, 69,4, 72,7, 75,8, 78,9, 80,6, 81,4, 78,0.5, 73,0, 70,1],
  [3, 78,20.5, 82,20.5, 81,17, 79,17.5],
  [3, 104.3,6, 106.5,6, 106.7,3.8, 105.5,3.5, 104.2,4],
  [3, 132,5.2, 139,8, 146.3,13.8, 146.3,17, 152,17, 154,12, 151,7, 138,3, 133.4,3.3],
  [3, 195.3,8, 198.3,9, 206.6,4.3, 199.4,2.2, 197,3.4],
  [3, 197,-20.5, 199,-19.5, 203,-20.5],
  [3, 121,-1, 124,-1, 123,-4, 121,-3.5],
  [5, 72.5,3, 73.5,6, 75.5,8, 77.5,8, 79.5,5, 78,3, 74.5,2.8],
  [5, 146.3,11, 146.9,15, 150,15, 152.2,12, 147.5,8.6],
  [-5, 107,-20.5, 110,-18, 115,-20.5],
  [-5, 137.5,19.5, 141,19, 141.5,15.5, 139.5,16],
  [-7, 139.5,17.5, 141,17, 141,15.5, 140,16]
];
const fillJun6 = [
  [-1, 60,17, 63,20.5, 67,18, 65,15, 60,14],
  [-1, 80,20.5, 92,20.5, 93,11, 88,9, 83,11, 81,16],
  [-1, 75.5,-11, 79,-5, 86,-5, 87,-0.3, 90.8,-1, 89.6,-6, 83,-10, 80,-13, 76,-13],
  [-1, 111,20.5, 128.6,20.5, 140.4,17, 139.2,13, 129,7, 121.5,6, 114.4,10, 110,13],
  [-1, 143,7, 148,10, 153.5,13, 152,6, 149,2, 150,-1, 147,-0.8, 144,3],
  [-1, 230,20.5, 240,20.5, 240,14.5, 233,15, 230,18],
  [-1, 221,-20.5, 222,-16, 236,-12, 240,-9, 240,-20.5],
  [-1, 104,-13, 116,-10, 125,-9, 127.4,-13, 135.7,-12, 139,-16.7, 146,-20.5, 119,-20.5, 105,-14.4],
  [-1, 154.6,-5, 172,-4, 179.3,-10, 187.6,-13, 194,-16, 204,-20.5, 172,-20.5, 160.5,-11],
  [1, 69,20.5, 85,20.5, 78,15, 77.4,9, 78,5, 72,3, 59,0.5, 59,6, 66,8, 69,15],
  [1, 59,0, 63,0, 64,-2, 62,-6, 59,-6],
  [1, 59,-9, 63,-9, 69,-12, 70.3,-15, 68,-18, 70,-20.5, 59,-20.5],
  [1, 98.5,14, 101,12, 111,8, 114.4,2.4, 111.5,-2.4, 108.5,-2, 104.4,0, 101.4,-3, 96.7,3.4, 95.5,8],
  [1, 116.8,1.4, 127.4,4.3, 140.4,12, 143,20.5, 164,20.5, 161.7,17, 159.3,15, 152.2,11.7, 146.3,4.3, 135.7,0, 131,0.5, 119,-0.5, 114.4,-1.4],
  [1, 154,4.3, 160.5,10, 163,12.4, 172,5.2, 168,3.4, 158,1, 154,2.5],
  [1, 174,3.8, 184.7,11.7, 192,20.5, 196,12.9, 193,10.5, 195.4,9.5, 210,7, 223,10, 230,6, 228.8,3.3, 223,-0.5, 226.5,-6, 225,-9, 216,-12, 204,-10, 193.6,-8, 181.6,-3, 180.5,-0.5, 175.8,1.5],
  [1, 223,17, 226,15, 229,12, 226,9.5, 222.5,11],
  [1, 203.6,-17.6, 210,-12.5, 213.6,-16, 217,-20.5, 204,-20.5],
  [1, 98,-20.5, 105,-18.5, 112,-20.5],
  [1, 145,-8, 151,-9, 159.5,-15, 166,-20.5, 147.5,-20.5, 146.3,-14],
  [-3, 129.4,20.5, 139.5,20.5, 137,17, 133,16.5, 131,18],
  [-3, 163.5,-9.5, 170,-10, 179.4,-16.7, 186.5,-20.5, 179,-20.5, 172,-15.5],
  [-3, 232,-20.5, 240,-18, 240,-20.5],
  [-3, 128,-19.5, 134,-19.5, 135,-20.5, 127,-20.5],
  [3, 69.6,20.5, 78.4,20.5, 75.5,17, 76,9, 73,6.7, 69,10, 70.7,14],
  [3, 104.4,6.2, 106.5,6.2, 106.5,3.8, 105,3.6],
  [3, 130,4.3, 139.2,10, 143,16.7, 144,20.5, 151,20.5, 150,15.7, 140.4,9, 133.4,4.3, 130.6,3.8],
  [5, 71.3,20.5, 75.5,20.5, 74.9,15.7, 74.9,11, 72.5,9.5, 70.5,12, 71.3,15.7],
  [5, 141,13, 143,20.5, 149.5,20.5, 145,15, 140.4,10],
  [-5, 132,20.5, 138,20.5, 135,18.8],
  [7, 71.7,17, 74,17.5, 74.5,11.5, 73,11, 71.7,14],
  [7, 143,20.5, 147,20.5, 144.6,17.7, 143.5,18.5]
];
const panelFills = [fillMay16, fillMay19, fillMay22, fillMay25, fillMay28, fillMay31, fillJun3, fillJun6];

// ---- Filtered wave contours: ['ER'|'Kelvin'|'MJO', lon, lat, ...] ----
const waveMay16 = [
  ['ER', 103.3,-14.3, 105.7,-14.3, 109.5,-16, 108,-17, 104.2,-16.5],
  ['MJO', 202,-20.6, 205,-19.7, 208,-20.6, 205,-21.5]
];
const waveMay19 = [
  ['ER', 67,0.8, 70.5,1, 71,0.5, 70,-0.3, 67.5,-0.1],
  ['ER', 89,-13, 91.4,-11.7, 96.7,-12, 99,-13, 102,-16.3, 101.4,-18, 98,-18.6, 93.7,-16.7, 90.8,-14.8]
];
const waveMay22 = [
  ['ER', 58,12.4, 63,12, 65,10.5, 63,8, 58,7.8],
  ['ER', 58,3.4, 61.5,3.4, 62,1, 58,0.5],
  ['ER', 81.8,-12.9, 83,-11.8, 87.3,-12.4, 89.6,-14, 86.7,-14.6],
  ['ER', 96.7,8.6, 99,11, 103,12.9, 106.7,12.9, 106.7,10.5, 104.4,8.6, 100.2,7, 97.3,7.6],
  ['Kelvin', 63.7,-21, 64.2,-17, 67,-15.2, 69.6,-13.3, 75.5,-12.9, 79.6,-13.3, 80.8,-15.2, 86,-16.7, 90.5,-21, 77,-23]
];
const waveMay25 = [
  ['Kelvin', 63.4,7.9, 68.6,11.7, 72.9,12.8, 79,12.1, 76.7,9.7, 79.6,8.3, 79.1,6.6, 68.6,6.2, 64,7],
  ['ER', 88.6,7.9, 92.9,12.1, 98,15, 105.7,15.4, 104.7,11.7, 99,7.9, 92.4,6.4, 89,7],
  ['Kelvin', 92,-21, 92,-16, 94,-13, 101,-10.6, 109.5,-8.5, 116,-9.2, 115.5,-13, 117,-15.4, 120.9,-18.7, 121,-21, 106,-24],
  ['Kelvin', 102.4,-20.5, 106,-19, 109.5,-20.5, 106,-22]
];
const waveMay28 = [
  ['ER', 83.5,8.2, 86,12.4, 92.8,15.4, 97.5,15.9, 99.4,14.3, 96.6,10.5, 91,8, 85,7],
  ['Kelvin', 96.6,11.5, 100,13, 104,13.4, 108.4,12, 106.5,10.3, 102,9.7, 98,10.2],
  ['Kelvin', 122.7,-21, 124,-16.5, 127,-13.6, 131.7,-12.7, 138.8,-12.2, 142,-15, 145.5,-17, 147.6,-21, 135,-24]
];
const waveMay31 = [
  ['ER', 78,8.6, 80.2,12.4, 85,15.5, 89.6,16, 91.8,14.3, 89.6,11, 84.4,8.6, 80.2,7.6],
  ['ER', 145,5.2, 148.7,8, 155.8,10.5, 161.7,10.5, 164.3,8.6, 160.5,6.2, 152.2,3.8, 149.2,2.4, 149.2,1.6, 148,0.9, 146.3,1.9, 147,3.3],
  ['Kelvin', 152.8,-21, 155.8,-17.6, 160.5,-16, 166.4,-16.5, 170.5,-18.6, 172,-21, 162,-24]
];
const waveJun3 = [
  ['ER', 71,10.2, 75.5,13.8, 80.2,15.9, 83.7,14.8, 83.2,11.4, 79,6.2, 73.7,5.2, 71.3,6.2],
  ['ER', 139,5.7, 145.6,10.5, 155.8,15.5, 159,13.3, 156,8.6, 147.5,5.4, 140.4,5.2],
  ['Kelvin', 60,-20.6, 65,-19.7, 71,-20.6, 65,-22]
];
const waveJun6 = [
  ['ER', 62.5,10, 67,13.3, 72.3,17, 75.3,16.6, 77,13, 75.3,6.7, 69.6,4.8, 63,4.8, 62.5,7],
  ['ER', 138,9, 141,13, 145,21, 150,23, 155.5,21, 153.5,14.8, 146.3,11, 139.2,8.3]
];
const panelWaves = [waveMay16, waveMay19, waveMay22, waveMay25, waveMay28, waveMay31, waveJun3, waveJun6];

// ---- Coastline polylines, lon/lat pairs ----
const coastMainland = [
  [72.8,20.5, 72.8,19, 73.2,17, 73.8,15, 74.6,13, 75.3,11.5, 76.2,10, 77,8.3, 77.6,8, 78.2,9, 79,9.6, 79.8,10.5, 80,12.5, 80.3,14, 80.2,15.5, 81.5,16.3, 83,17.5, 85,19.5, 86.5,20.5],
  [80,9.7, 81,8.8, 81.8,7.5, 81.5,6.3, 80.5,5.9, 80,6.5, 79.8,8, 80,9.7],
  [93.3,20.5, 94.3,18, 94.5,16, 95.5,15.8, 97,16.5, 97.7,15, 98.5,12, 98.6,10, 98.3,8, 99.5,6.5, 100.3,5.5, 100.5,3.8, 101.3,2.8, 102.5,2, 103.5,1.3, 104.2,1.5, 103.5,3, 103.3,4.5, 102.3,6, 101,6.8, 100,8, 99.3,9.5, 99.3,11, 100,12.5, 100.5,13.5, 101,12.7, 102.5,12, 103.5,10.7, 105,10.2, 104.8,8.7, 106.2,9.5, 107,10.4, 109,11.5, 109.3,13, 108.8,15.5, 107.5,16.8, 106,18.5, 105.7,19.5, 106.5,20.5],
  [108.7,19.2, 110,18.4, 110.9,19.5, 110.6,20, 109.3,19.9, 108.7,19.2],
  [118,-20.5, 121,-19.5, 122.3,-18, 122.3,-17, 123.5,-17.3, 124,-16.3, 125,-15, 126.8,-14, 128,-15, 129.5,-15, 130,-13.3, 131,-12.3, 132.5,-11.5, 135,-12.2, 136.8,-12.2, 136,-13.5, 135.5,-15, 137,-16, 139.5,-17.5, 141,-16.5, 141.7,-14, 141.8,-12.5, 142.5,-10.8, 143.5,-14, 145.3,-15, 146,-18.5, 148.5,-20.5]
];
const coastIslandsLarge = [
  [95.3,5.6, 97.5,5.2, 98.5,4, 100.5,2.2, 102,1, 103.5,-1, 104.5,-2, 106,-3, 105.8,-5.8, 104.5,-5.8, 102.3,-4, 101,-2.5, 100.3,-1, 99,0.5, 98,2, 96.5,3.8, 95.3,5.6],
  [105.2,-6.8, 106,-6, 108.5,-6.6, 110.8,-6.4, 112.7,-7, 114.5,-7.8, 114.4,-8.7, 112,-8.3, 109,-7.7, 106.5,-7.4, 105.2,-6.8],
  [109,1.5, 110,1.7, 111.3,2.6, 113,3.2, 114,4.5, 115.5,5.5, 116.8,7, 117.7,6, 119,5.2, 118,4.3, 117.7,3, 118,2, 119,1, 117.5,0.5, 117.5,-0.8, 116.5,-1.5, 116.2,-3, 115,-4, 113,-3.3, 111.8,-3.5, 110.2,-2.8, 110,-1.3, 109,-0.5, 109,1.5],
  [119.8,0.8, 120.8,1.3, 123,0.9, 125,1.5, 124.5,0.4, 121.5,0.5, 120.2,0, 120.3,-1, 121.5,-1, 123.3,-0.9, 122,-1.8, 122.5,-3.3, 123,-4.5, 122,-4.7, 121,-3, 120.5,-2.8, 120.4,-5.5, 119.5,-5.5, 119.5,-3.5, 118.9,-2.8, 119.5,-0.5, 119.8,0.8],
  [120.6,18.5, 122.2,18.5, 122,16, 121.5,14.3, 124,13, 123.5,13.8, 122,13.8, 120.6,14, 120,16, 120.6,18.5],
  [122,7, 123.5,8.7, 125.5,9.8, 126.5,7.5, 125.5,5.8, 124,6.5, 122,7],
  [122,11.8, 123.2,10, 122.5,9.5, 122,11, 122,11.8],
  [124.3,12.5, 125.5,11.5, 125,10.2, 124.3,11.5, 124.3,12.5],
  [120.5,13.4, 121.3,13.3, 121.2,12.3, 120.5,13.4],
  [117.2,8.4, 119.5,11.3, 118.5,9.5, 117.5,8.3],
  [131,-0.8, 132.5,-0.4, 134,-0.8, 135,-3.3, 137.5,-1.6, 141,-2.6, 144.5,-3.9, 146,-5.5, 147.8,-6, 147.2,-7, 149,-9, 150.8,-10.3, 149,-10.3, 147,-9.5, 145,-7.8, 143,-9, 141,-9.1, 139,-8, 138,-8.3, 138.5,-7, 138,-5.5, 135,-4.4, 133,-4, 132.8,-2.8, 134,-2.5, 132,-2.2, 131,-0.8],
  [141,-2.6, 141,-9.1],
  [148.5,-5.6, 150.5,-5.5, 152,-4.2, 152.3,-5, 150.5,-6.3, 148.5,-5.6]
];
const coastIslandsSmall = [
  [92.7,13.4, 92.6,11.8], [93.5,8, 93.8,7], [96,2.8, 96.3,2.4], [97.3,1.5, 97.8,0.8],
  [98.7,-1, 99.2,-1.7], [99.7,-2.2, 100.4,-3], [105.5,-2, 106.5,-2.7], [107.5,-2.8, 108.2,-3],
  [115,-8.3, 115.6,-8.6], [116.2,-8.6, 117,-8.5, 119,-8.5, 118,-8.9, 116.5,-9, 116.2,-8.6],
  [119.8,-8.6, 122.8,-8.3, 121,-8.9, 119.8,-8.6], [119.2,-9.6, 120.8,-10.1],
  [123.6,-10.3, 125,-9.1, 127.2,-8.4, 125.5,-9.6, 123.6,-10.3], [128,-3.1, 130.5,-3.3, 129,-3.5, 128,-3.1],
  [126,-3.3, 127.2,-3.3], [127.5,1.8, 128,0.5, 128.7,0.3, 128,-0.7, 127.6,1, 127.5,1.8],
  [134.2,-5.5, 134.7,-6.7], [131.3,-7.5, 131.7,-8], [150.7,-2.6, 152.5,-3.8, 152.8,-4.6],
  [154.7,-5.5, 155.8,-6.8], [156.5,-7, 158,-8], [159,-8, 161,-9.5], [160,-9.5, 161,-10], [161.5,-10.3, 162.2,-10.8],
  [167,-15, 167.3,-16], [168,-16.5, 168.2,-17.5], [177.3,-17.7, 178.5,-17.4, 178.5,-18.2, 177.4,-18.1, 177.3,-17.7],
  [179,-16.7, 180,-16.3], [187.5,-13.5, 188.5,-13.9], [210.5,-17.5, 210.8,-17.8], [204.5,20.5, 205,19.2, 204,19.5]
];

// ---- Axis functions ----
const PANEL_W = 632, PANEL_H = 141;
function panelLeft(col) { return col === 0 ? 103 : 845; }
function panelTop(row) { return 45 + row * 233; }
function xScale(col, lon) { return panelLeft(col) + (lon - 60) / 180 * PANEL_W; }
function yScale(row, lat) { return panelTop(row) + (20 - lat) / 40 * PANEL_H; }

const SVGNS = 'http://www.w3.org/2000/svg';
function mk(tag, attrs, parent) {
  const el = document.createElementNS(SVGNS, tag);
  for (const k in attrs) el.setAttribute(k, attrs[k]);
  parent.appendChild(el);
  return el;
}
function bandColor(level) { return bandColors[bandLevels.indexOf(level)]; }

// closed Catmull-Rom spline through a flat lon/lat list
function smoothPath(col, row, flat, start) {
  const p = [];
  for (let i = start; i + 1 < flat.length; i += 2) p.push([xScale(col, flat[i]), yScale(row, flat[i + 1])]);
  const n = p.length;
  let d = 'M' + p[0][0].toFixed(1) + ' ' + p[0][1].toFixed(1);
  for (let i = 0; i < n; i++) {
    const a = p[(i - 1 + n) % n], b = p[i], c = p[(i + 1) % n], e = p[(i + 2) % n];
    const c1x = b[0] + (c[0] - a[0]) / 6, c1y = b[1] + (c[1] - a[1]) / 6;
    const c2x = c[0] - (e[0] - b[0]) / 6, c2y = c[1] - (e[1] - b[1]) / 6;
    d += 'C' + c1x.toFixed(1) + ' ' + c1y.toFixed(1) + ' ' + c2x.toFixed(1) + ' ' + c2y.toFixed(1) + ' ' + c[0].toFixed(1) + ' ' + c[1].toFixed(1);
  }
  return d + 'Z';
}
function linePath(col, row, flat) {
  let d = '';
  for (let i = 0; i + 1 < flat.length; i += 2) {
    d += (i ? 'L' : 'M') + xScale(col, flat[i]).toFixed(1) + ' ' + yScale(row, flat[i + 1]).toFixed(1);
  }
  return d;
}
function fillOrder(level) { return level === 0 ? 1.5 : Math.abs(level); }
const waveColors = { ER: '#f00000', Kelvin: '#0000f0', MJO: '#000000' };

const root = document.getElementById('panels');
const defs = document.getElementById('defs');

panelTitles.forEach(function (title, idx) {
  const col = idx < 4 ? 0 : 1;
  const row = idx % 4;
  const L = panelLeft(col), T = panelTop(row);

  const clip = mk('clipPath', { id: 'clip' + idx }, defs);
  mk('rect', { x: L, y: T, width: PANEL_W, height: PANEL_H }, clip);

  const g = mk('g', {}, root);
  
  

  const bg = mk('rect', { x: L, y: T, width: PANEL_W, height: PANEL_H, fill: '#f7f7f7' }, g);
  
  

  const body = mk('g', { 'clip-path': 'url(#clip' + idx + ')' }, g);

  panelFills[idx].slice().sort(function (a, b) { return fillOrder(a[0]) - fillOrder(b[0]); }).forEach(function (shape) {
    const path = mk('path', { d: smoothPath(col, row, shape, 1), fill: bandColor(shape[0]) }, body);
    
    
  });

  const coast = mk('path', {
    d: coastMainland.concat(coastIslandsLarge).map(function (s) { return linePath(col, row, s); }).join(''),
    fill: 'none', stroke: '#555', 'stroke-width': 2, 'stroke-linejoin': 'round', 'stroke-linecap': 'round'
  }, body);
  
  

  const isles = mk('path', {
    d: coastIslandsSmall.map(function (s) { return linePath(col, row, s); }).join(''),
    fill: '#555', stroke: '#555', 'stroke-width': 2.6, 'stroke-linejoin': 'round', 'stroke-linecap': 'round'
  }, body);
  
  

  const eq = mk('line', { x1: xScale(col, 60), x2: xScale(col, 240), y1: yScale(row, 0), y2: yScale(row, 0), stroke: '#4a4a4a', 'stroke-width': 1.8, 'stroke-dasharray': '5 4' }, body);
  
  

  const dl = mk('line', { x1: xScale(col, 180), x2: xScale(col, 180), y1: yScale(row, 20), y2: yScale(row, -20), stroke: '#4a4a4a', 'stroke-width': 1.8, 'stroke-dasharray': '5 4' }, body);
  
  

  panelWaves[idx].forEach(function (wave) {
    const w = mk('path', { d: smoothPath(col, row, wave, 1), fill: 'none', stroke: waveColors[wave[0]], 'stroke-width': 1.8 }, body);
    
    
  });

  // frame and ticks
  const axes = mk('g', { stroke: '#000', fill: 'none' }, g);
  
  
  mk('rect', { x: L, y: T, width: PANEL_W, height: PANEL_H, 'stroke-width': 3 }, axes);
  for (let lat = -20; lat <= 20; lat += 2) {
    const major = lat % 10 === 0;
    const y = yScale(row, lat), len = major ? 5 : 3, sw = major ? 3 : 1.8;
    mk('line', { x1: L - len, x2: L, y1: y, y2: y, 'stroke-width': sw }, axes);
    mk('line', { x1: L + PANEL_W, x2: L + PANEL_W + len, y1: y, y2: y, 'stroke-width': sw }, axes);
  }
  for (let lon = 60; lon <= 240; lon += 10) {
    const major = lonTicks.indexOf(lon) >= 0;
    const x = xScale(col, lon), len = major ? 6 : 3, sw = major ? 3 : 2;
    mk('line', { x1: x, x2: x, y1: T - len, y2: T, 'stroke-width': sw }, axes);
    mk('line', { x1: x, x2: x, y1: T + PANEL_H, y2: T + PANEL_H + len, 'stroke-width': sw }, axes);
  }

  // title: last two forecast panels sit slightly lower in the reference
  const titleY = T - 14 + (col === 1 && row >= 2 ? 7 : 0);
  const t = mk('text', { x: col === 0 ? L - 3 : L - 2, y: titleY, 'font-size': 34.7 }, g);
  t.textContent = title;
  
  

  if (col === 0) {
    latTicks.forEach(function (lat, i) {
      const lab = mk('text', { x: 74, y: yScale(row, lat) + 12.2, 'text-anchor': 'end', 'font-size': 34.6 }, g);
      lab.textContent = latTickLabels[i];
      
      
    });
  }
  if (row === 3) {
    lonTicks.forEach(function (lon, i) {
      const lab = mk('text', { x: xScale(col, lon) - 0.5, y: 940, 'text-anchor': 'middle', 'font-size': 34.6 }, g);
      lab.textContent = lonTickLabels[i];
      
      
    });
  }
});

// colour bar
const cb = document.getElementById('colorbar');
const CB_X = 230, CB_W = 54.8, CB_Y = 1002, CB_H = 24;
bandColors.forEach(function (c, i) {
  const box = mk('rect', { x: CB_X + i * CB_W, y: CB_Y, width: CB_W, height: CB_H, fill: c, stroke: '#000', 'stroke-width': 1.6 }, cb);
  
  
});
colorbarLabels.forEach(function (s, i) {
  const lab = mk('text', { x: CB_X + (i + 1) * CB_W, y: 1054, 'text-anchor': 'middle', 'font-size': 28.5 }, cb);
  lab.textContent = s;
  
  
});
</script>
</body>
</html>
